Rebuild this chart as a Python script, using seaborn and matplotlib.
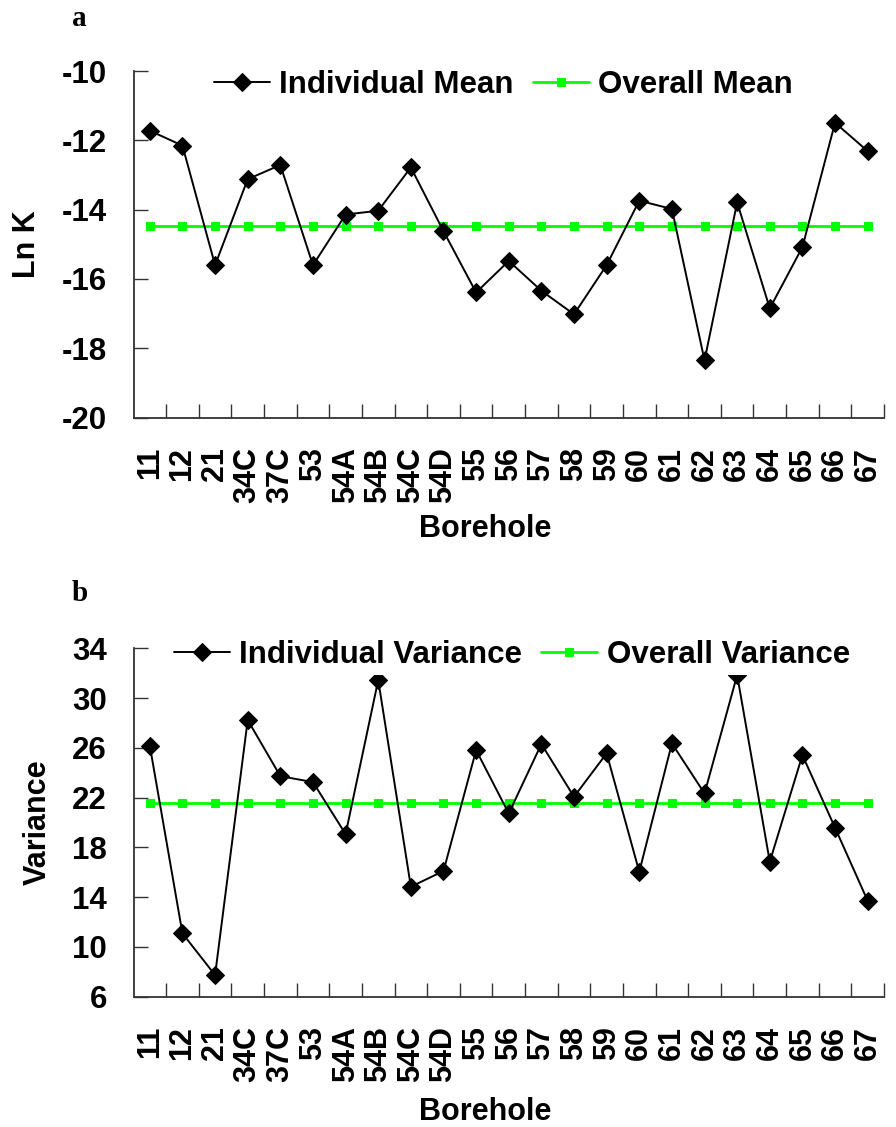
import numpy as np
import pandas as pd
import matplotlib
matplotlib.use("Agg")
import matplotlib.pyplot as plt
import seaborn as sns
from matplotlib.ticker import FixedLocator

boreholes = ["11", "12", "21", "34C", "37C", "53", "54A", "54B", "54C", "54D",
             "55", "56", "57", "58", "59", "60", "61", "62", "63", "64",
             "65", "66", "67"]

ln_k_mean = [-11.72, -12.15, -15.60, -13.12, -12.71, -15.60, -14.14, -14.03,
             -12.78, -14.62, -16.39, -15.48, -16.34, -17.02, -15.60, -13.74,
             -13.98, -18.35, -13.79, -16.85, -15.08, -11.49, -12.31]
ln_k_overall = -14.48

variance = [26.17, 11.09, 7.74, 28.24, 23.73, 23.25, 19.07, 31.45, 14.84,
            16.10, 25.82, 20.73, 26.31, 22.07, 25.56, 16.04, 26.36, 22.34,
            31.85, 16.85, 25.42, 19.58, 13.71]
variance_overall = 21.59

sns.set_theme(style="white")
plt.rcParams["font.family"] = ["Liberation Sans", "DejaVu Sans"]
plt.rcParams["font.weight"] = "bold"
for key in ("text.color", "axes.labelcolor", "xtick.color", "ytick.color"):
    plt.rcParams[key] = "black"

fig = plt.figure(figsize=(8.96, 11.27), dpi=100)
ax_a = fig.add_axes([0.149, 0.6295, 0.8376, 0.3074])
ax_b = fig.add_axes([0.149, 0.1156, 0.8376, 0.3091])

XFS = 22
YFS = 22.5
LFS = 22.5


def panel(ax, values, overall, ylabel, ylim, yticks, names, letter, letter_y,
          leg_x, leg_y, xlabel_y):
    idx = np.arange(len(boreholes))
    df = pd.DataFrame({"pos": idx, "val": values,
                       "overall": [overall] * len(boreholes)})
    sns.lineplot(data=df, x="pos", y="val", ax=ax, color="black", lw=1.4,
                 marker="D", markersize=9, markeredgecolor="black",
                 label=names[0], sort=False, zorder=3)
    sns.lineplot(data=df, x="pos", y="overall", ax=ax, color="#00ff00", lw=2,
                 marker="s", markersize=6, markeredgecolor="#00ff00",
                 label=names[1], sort=False, zorder=2)
    ax.set_xlim(-0.5, len(boreholes) - 0.5)
    ax.set_ylim(*ylim)
    ax.set_yticks(yticks)
    ax.set_yticklabels([str(t) for t in yticks], fontsize=YFS,
                       fontweight="bold")
    ax.set_xticks(idx)
    ax.set_xticklabels(boreholes, rotation=90, fontsize=XFS, fontweight="bold",
                       va="top", ha="center")
    ax.xaxis.set_minor_locator(FixedLocator(idx + 0.5))
    ax.tick_params(axis="x", which="major", length=0, pad=21)
    ax.tick_params(axis="x", which="minor", direction="in", length=10,
                   width=1, color="#333333", bottom=True)
    ax.tick_params(axis="y", which="major", direction="in", length=10,
                   width=1, color="#333333", left=True, pad=19)
    for side in ("top", "right"):
        ax.spines[side].set_visible(False)
    for side in ("left", "bottom"):
        ax.spines[side].set_color("#333333")
        ax.spines[side].set_linewidth(1.3)
    ax.set_xlabel("Borehole", fontsize=22, fontweight="bold")
    ax.xaxis.set_label_coords(0.468, xlabel_y)
    ax.set_ylabel(ylabel, fontsize=22, fontweight="bold", labelpad=14)
    ax.grid(False)
    leg = ax.legend(loc="center", bbox_to_anchor=(leg_x, leg_y), ncol=2,
                    frameon=True, fontsize=LFS, handlelength=1.8,
                    handletextpad=0.3, columnspacing=0.6, borderpad=0.15,
                    borderaxespad=0)
    leg.get_frame().set_facecolor("white")
    leg.get_frame().set_edgecolor("none")
    leg.get_frame().set_alpha(1)
    leg.set_zorder(5)
    for t in leg.get_texts():
        t.set_fontweight("bold")
    fig.text(72 / 896, letter_y, letter, fontsize=21, fontweight="bold",
             family="Liberation Serif", ha="left", va="center")


panel(ax_a, ln_k_mean, ln_k_overall, "Ln K", (-20, -10),
      [-20, -18, -16, -14, -12, -10], ["Individual Mean", "Overall Mean"],
      "a", 1 - 18 / 1127, 0.493, 0.959, -0.278)
panel(ax_b, variance, variance_overall, "Variance", (6, 34),
      [6, 10, 14, 18, 22, 26, 30, 34],
      ["Individual Variance", "Overall Variance"], "b", 1 - 594 / 1127,
      0.504, 0.98, -0.288)

fig.savefig("out.png", dpi=100)
